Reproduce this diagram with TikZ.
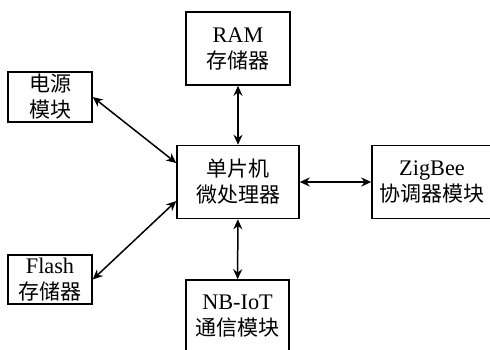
\documentclass[tikz,border=0pt]{standalone}
\usepackage{fontspec}
\setmainfont{Liberation Serif}[Scale=1.06]
\newfontfamily\cjk{Noto Sans CJK SC}
\usetikzlibrary{arrows.meta}
\tikzset{
  block/.style={draw, line width=1.5pt, inner sep=0pt, align=center,
    font=\fontsize{21}{26}\selectfont},
  link/.style={line width=1.5pt, {Stealth[length=10pt,width=9pt]}-{Stealth[length=10pt,width=9pt]}}
}
\begin{document}
\begin{tikzpicture}[x=1pt, y=-1pt]
      \useasboundingbox (0,0) rectangle (490,349);
      \node[block, minimum width=122pt, minimum height=73pt] (mcu) at (238,182)
        {{\cjk 单片机}\\{\cjk 微处理器}};
      \node[block, minimum width=104pt, minimum height=73pt] (ram) at (238,48.5)
        {RAM\\{\cjk 存储器}};
      \node[block, minimum width=84pt, minimum height=50pt] (power) at (50,97)
        {{\cjk 电源}\\{\cjk 模块}};
      \node[block, minimum width=84pt, minimum height=49pt] (flash) at (50,279.5)
        {Flash\\{\cjk 存储器}};
      \node[block, minimum width=120pt, minimum height=73pt] (zigbee) at (432,182)
        {ZigBee\\{\cjk 协调器模块}};
      \node[block, minimum width=103pt, minimum height=73pt] (nbiot) at (237.5,316.5)
        {NB-IoT\\{\cjk 通信模块}};
      \begin{scope}[link]
        \draw (ram) to (mcu);
        \draw (mcu) to (zigbee);
        \draw (mcu) to (nbiot);
        \draw (power.east) to ([yshift=19pt]mcu.west);
        \draw (flash.east) to ([yshift=-19pt]mcu.west);
      \end{scope}
    \end{tikzpicture}
\end{document}
